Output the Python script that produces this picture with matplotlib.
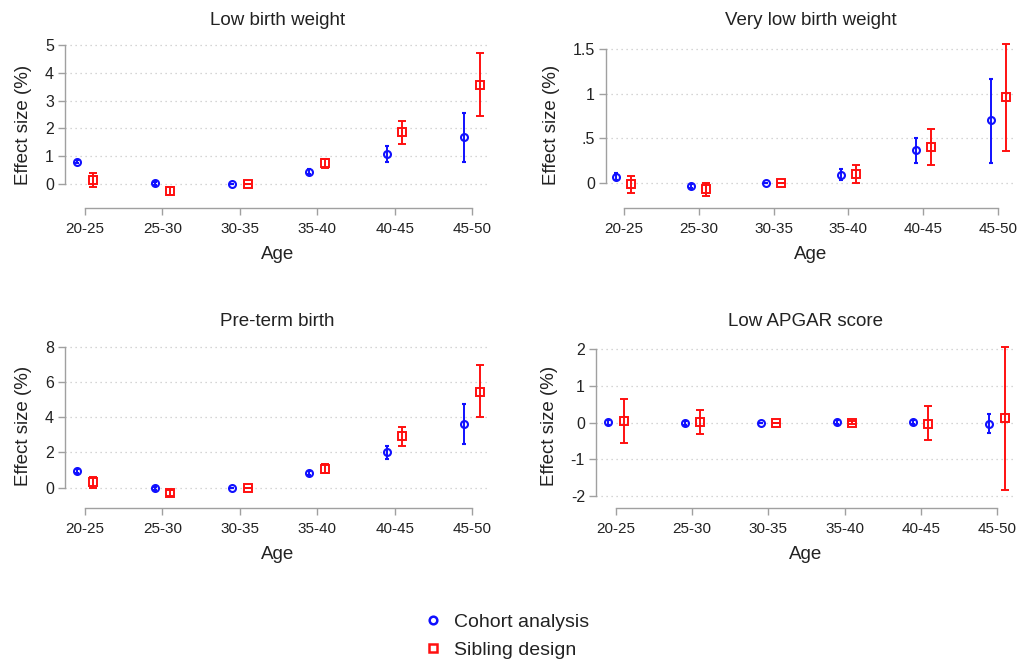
import numpy as np
import matplotlib
matplotlib.use('Agg')
import matplotlib.pyplot as plt
from matplotlib.lines import Line2D

plt.rcParams['font.family'] = ['Liberation Sans', 'DejaVu Sans']
plt.rcParams['axes.unicode_minus'] = False

ages = ['20-25', '25-30', '30-35', '35-40', '40-45', '45-50']

# Low birth weight
lbw_coh = [0.81, 0.03, 0.0, 0.44, 1.08, 1.69]
lbw_coh_lo = [0.75, -0.02, 0.0, 0.36, 0.79, 0.79]
lbw_coh_hi = [0.88, 0.08, 0.0, 0.53, 1.38, 2.57]
lbw_sib = [0.14, -0.24, 0.0, 0.75, 1.87, 3.58]
lbw_sib_lo = [-0.12, -0.38, 0.0, 0.57, 1.45, 2.44]
lbw_sib_hi = [0.39, -0.11, 0.0, 0.90, 2.27, 4.72]

# Very low birth weight
vlbw_coh = [0.068, -0.041, 0.0, 0.09, 0.37, 0.70]
vlbw_coh_lo = [0.03, -0.06, 0.0, 0.03, 0.226, 0.226]
vlbw_coh_hi = [0.105, -0.02, 0.0, 0.15, 0.50, 1.17]
vlbw_sib = [-0.02, -0.07, 0.0, 0.10, 0.40, 0.96]
vlbw_sib_lo = [-0.12, -0.147, 0.0, 0.0, 0.196, 0.358]
vlbw_sib_hi = [0.08, 0.0, 0.0, 0.20, 0.60, 1.557]

# Pre-term birth
ptb_coh = [0.95, -0.04, 0.0, 0.83, 2.0, 3.59]
ptb_coh_lo = [0.85, -0.10, 0.0, 0.72, 1.63, 2.46]
ptb_coh_hi = [1.05, 0.03, 0.0, 0.95, 2.36, 4.74]
ptb_sib = [0.30, -0.28, 0.0, 1.08, 2.91, 5.46]
ptb_sib_lo = [0.0, -0.45, 0.0, 0.85, 2.36, 4.01]
ptb_sib_hi = [0.60, -0.15, 0.0, 1.32, 3.44, 6.94]

# Low APGAR score
apg_coh = [0.01, -0.01, 0.0, 0.02, 0.01, -0.03]
apg_coh_lo = [-0.07, -0.07, 0.0, -0.03, -0.04, -0.28]
apg_coh_hi = [0.08, 0.05, 0.0, 0.07, 0.06, 0.23]
apg_sib = [0.04, 0.02, 0.0, 0.0, -0.03, 0.12]
apg_sib_lo = [-0.56, -0.30, 0.0, -0.03, -0.48, -1.85]
apg_sib_hi = [0.65, 0.35, 0.0, 0.03, 0.45, 2.07]

panels = [
    ('Low birth weight', lbw_coh, lbw_coh_lo, lbw_coh_hi, lbw_sib, lbw_sib_lo, lbw_sib_hi,
     [0, 1, 2, 3, 4, 5], ['0', '1', '2', '3', '4', '5']),
    ('Very low birth weight', vlbw_coh, vlbw_coh_lo, vlbw_coh_hi, vlbw_sib, vlbw_sib_lo, vlbw_sib_hi,
     [0, 0.5, 1, 1.5], ['0', '.5', '1', '1.5']),
    ('Pre-term birth', ptb_coh, ptb_coh_lo, ptb_coh_hi, ptb_sib, ptb_sib_lo, ptb_sib_hi,
     [0, 2, 4, 6, 8], ['0', '2', '4', '6', '8']),
    ('Low APGAR score', apg_coh, apg_coh_lo, apg_coh_hi, apg_sib, apg_sib_lo, apg_sib_hi,
     [-2, -1, 0, 1, 2], ['-2', '-1', '0', '1', '2']),
]

# axes boxes [left, bottom, width, height] in figure fraction, xlim, ylim
boxes = [
    ([0.0639, 0.6867, 0.4175, 0.25], (-0.258, 5.233), (-0.863, 5.11)),
    ([0.5953, 0.6867, 0.4018, 0.25], (-0.24, 5.227), (-0.285, 1.583)),
    ([0.0639, 0.2349, 0.4175, 0.2485], (-0.258, 5.233), (-1.15, 8.21)),
    ([0.5855, 0.2349, 0.4116, 0.2485], (-0.262, 5.236), (-2.33, 2.17)),
]

blue = '#1010ff'
red = '#ff1010'
gray = '#a0a0a0'
txt = '#222222'

fig = plt.figure(figsize=(10.18, 6.64), dpi=100)
x = np.arange(len(ages))

for (title, c, clo, chi, s, slo, shi, yt, ytl), (box, xl, yl) in zip(panels, boxes):
    ax = fig.add_axes(box)
    c = np.array(c); s = np.array(s)
    cerr = [c - np.array(clo), np.array(chi) - c]
    serr = [s - np.array(slo), np.array(shi) - s]
    ax.errorbar(x - 0.1, c, yerr=cerr, fmt='o', color=blue, mfc='none', mec=blue,
                ms=5, mew=1.5, elinewidth=1.4, capsize=1.6, capthick=1.4, zorder=3)
    ax.errorbar(x + 0.1, s, yerr=serr, fmt='s', color=red, mfc='none', mec=red,
                ms=5.5, mew=1.4, elinewidth=1.4, capsize=2.8, capthick=1.4, zorder=3)
    ax.set_xlim(xl)
    ax.set_ylim(yl)
    ax.set_xticks(x)
    ax.set_xticklabels(ages, fontsize=11, color=txt)
    ax.set_yticks(yt)
    ax.set_yticklabels(ytl, fontsize=11.5, color=txt)
    for v in yt:
        ax.axhline(v, color='#c8c8c8', lw=0.9, ls=(0, (1, 3)), zorder=1)
    for side in ['top', 'right']:
        ax.spines[side].set_visible(False)
    ax.spines['left'].set_bounds(yt[0], yt[-1])
    ax.spines['bottom'].set_bounds(0, len(ages) - 1)
    for side in ['left', 'bottom']:
        ax.spines[side].set_color(gray)
        ax.spines[side].set_linewidth(1.0)
    ax.tick_params(axis='both', colors=gray, labelcolor=txt, length=5, width=1.0)
    ax.tick_params(axis='x', pad=5)
    ax.tick_params(axis='y', pad=3)
    ax.set_xlabel('Age', fontsize=13.5, color=txt, labelpad=7)
    ax.set_ylabel('Effect size (%)', fontsize=13.5, color=txt, labelpad=9)
    ax.set_title(title, fontsize=13.5, color=txt, pad=12)

handles = [
    Line2D([], [], ls='none', marker='o', mfc='none', mec=blue, ms=5.5, mew=1.8),
    Line2D([], [], ls='none', marker='s', mfc='none', mec=red, ms=5.5, mew=1.8),
]
fig.legend(handles, ['Cohort analysis', 'Sibling design'], loc='center',
           bbox_to_anchor=(0.497, 0.042), frameon=False, fontsize=14,
           handlelength=1.0, handletextpad=0.6, labelspacing=0.55, labelcolor=txt)

fig.savefig('out.png', dpi=100)
